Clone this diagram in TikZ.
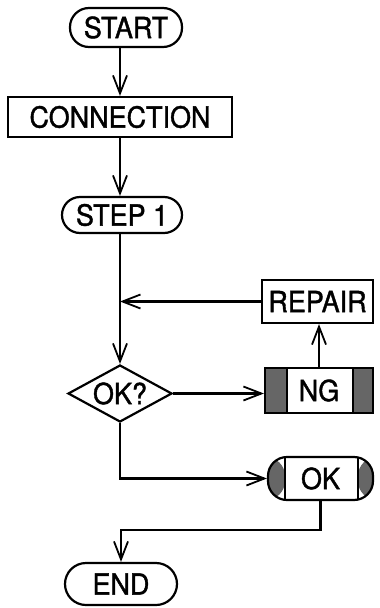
\documentclass[tikz,border=0pt]{standalone}
\usepackage{fontspec}
\setmainfont[FakeStretch=0.93,FakeBold=1.3]{TeX Gyre Heros}
\usetikzlibrary{arrows.meta,shapes.geometric,calc}
\definecolor{stip}{gray}{0.40}
\begin{document}
\begin{tikzpicture}[x=1pt,y=-1pt,
  every node/.style={font=\fontsize{29}{32}\selectfont, inner sep=0pt},
  line/.style={line width=2.2pt},
  box/.style={draw, rectangle, line width=2.2pt},
  term/.style={draw, rectangle, line width=2.2pt},
  arr/.style={line, -{Straight Barb[length=18pt,width=14pt,line width=1.8pt]}},
]
\useasboundingbox (0,0) rectangle (380,608);
\coordinate (col) at (120,0);

\node[term, rounded corners=19pt, minimum width=112pt, minimum height=39pt] (start) at (126,27.5) {START};
\node[box, minimum width=224pt, minimum height=40pt] (conn) at (120,117) {CONNECTION};
\node[term, rounded corners=18pt, minimum width=120pt, minimum height=36pt] (step) at (122,215) {STEP 1};
\node[diamond, draw, line width=2.2pt, aspect=1.82, minimum width=104pt, minimum height=57pt] (dec) at (120,393.5) {OK?};
\node[box, minimum width=111pt, minimum height=43pt] (rep) at (317.5,301.5) {REPAIR};
\node[box, minimum width=108pt, minimum height=45pt,
  path picture={
    \fill[stip] (path picture bounding box.north west) rectangle ($(path picture bounding box.south west)+(22,0)$);
    \fill[stip] (path picture bounding box.north east) rectangle ($(path picture bounding box.south east)+(-20,0)$);
    \draw[line] ($(path picture bounding box.north west)+(22,0)$) -- ($(path picture bounding box.south west)+(22,0)$);
    \draw[line] ($(path picture bounding box.north east)+(-20,0)$) -- ($(path picture bounding box.south east)+(-20,0)$);
  }] (ng) at (319,390.5) {NG};
\node[draw, line width=2.2pt, rectangle, rounded corners=19pt, minimum width=105pt, minimum height=43pt,
  path picture={
    \fill[stip] (path picture bounding box.north west) rectangle ($(path picture bounding box.south west)+(17,0)$);
    \fill[stip] (path picture bounding box.north east) rectangle ($(path picture bounding box.south east)+(-15,0)$);
    \draw[line] ($(path picture bounding box.north west)+(17,0)$) -- ($(path picture bounding box.south west)+(17,0)$);
    \draw[line] ($(path picture bounding box.north east)+(-15,0)$) -- ($(path picture bounding box.south east)+(-15,0)$);
  }] (ok) at (320.5,478.5) {OK};
\node[term, rounded corners=21pt, minimum width=112pt, minimum height=42pt] (end) at (121,584) {END};

\draw[arr] (start.south -| col) -- (conn.north -| col);
\draw[arr] (conn.south -| col) -- (step.north -| col);
\draw[arr] (step.south -| col) -- (dec.north);
\draw[arr] (rep.west) -- (rep.west -| col);
\draw[arr] (dec.east) -- (dec.east -| ng.west);
\draw[arr] (ng.north) -- (ng.north |- rep.south);
\draw[arr] (dec.south) |- (ok.west);
\draw[arr] (ok.south) -- ++(0,29) -| (end.north);
\end{tikzpicture}
\end{document}
